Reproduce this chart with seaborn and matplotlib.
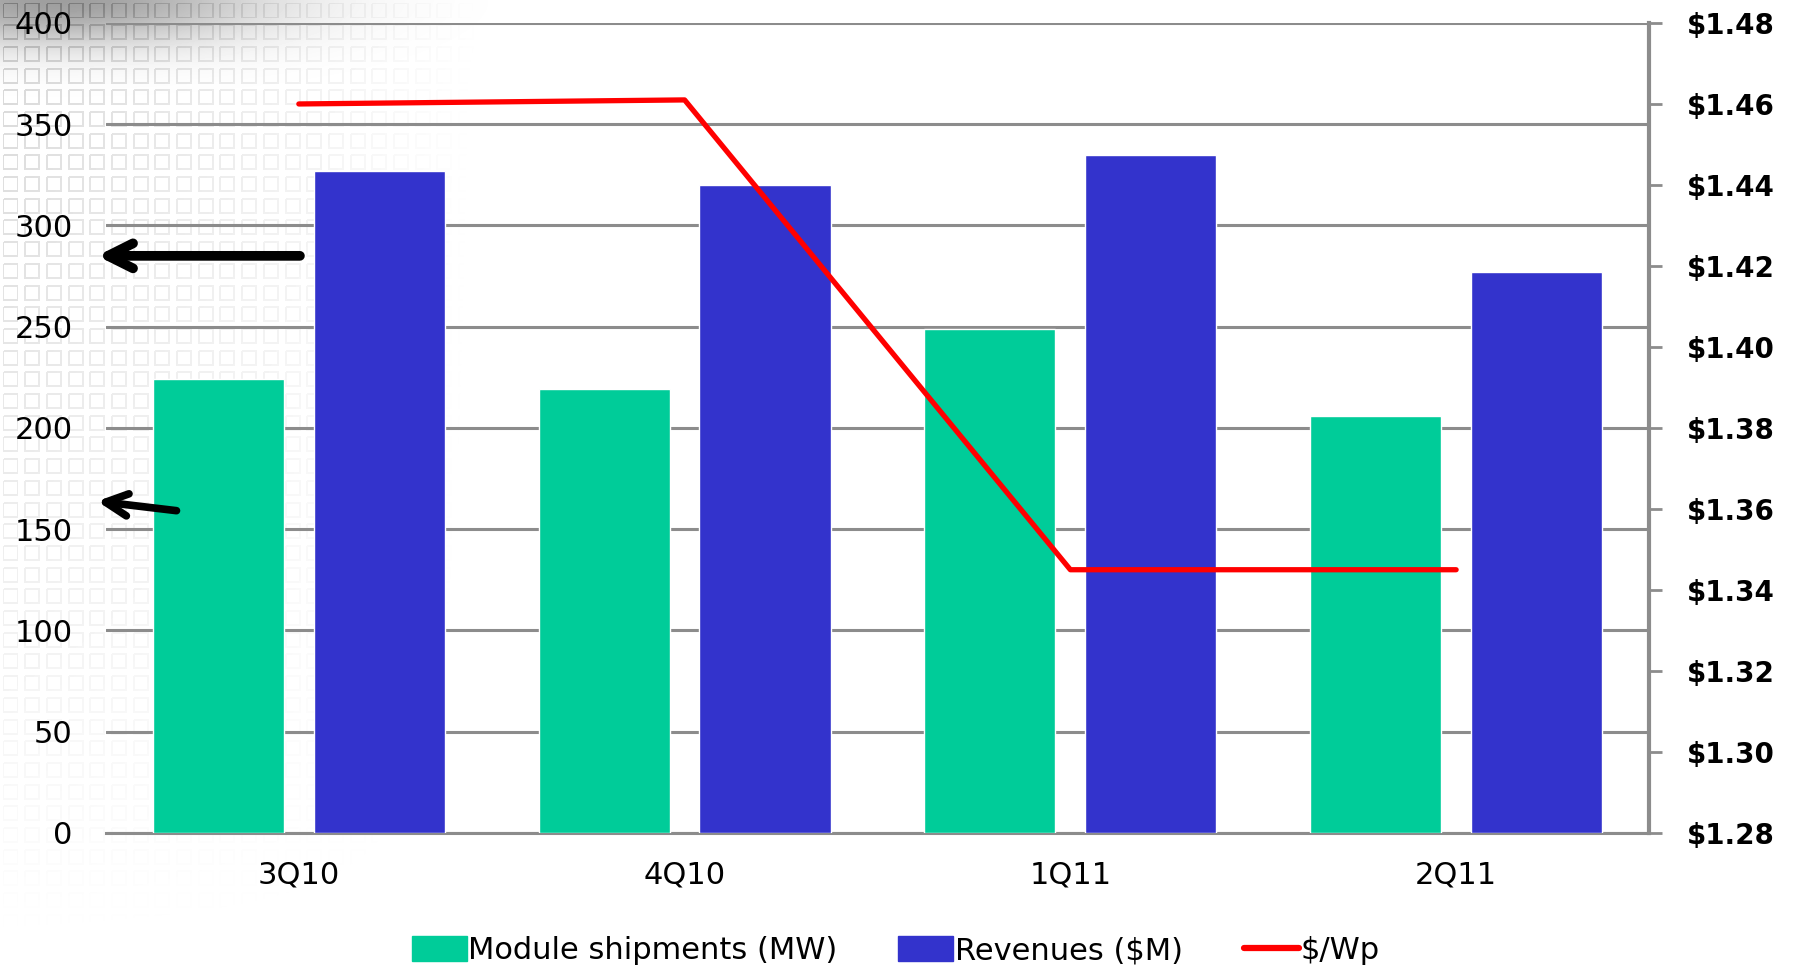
import numpy as np
import pandas as pd
import seaborn as sns
import matplotlib.pyplot as plt
from matplotlib.patches import Patch
from matplotlib.lines import Line2D

quarters = ["3Q10", "4Q10", "1Q11", "2Q11"]
shipments_mw = [224, 219, 249, 206]
revenues_m = [327, 320, 335, 277]
price_wp = [1.460, 1.461, 1.345, 1.345]

green = "#00CC99"
blue = "#3333CC"
red = "#FF0000"
grid_grey = "#8C8C8C"

df = pd.DataFrame({
    "quarter": quarters * 2,
    "value": shipments_mw + revenues_m,
    "series": ["Module shipments (MW)"] * 4 + ["Revenues ($M)"] * 4,
})

sns.set_style("white")
plt.rcParams["font.family"] = ["DejaVu Sans"]
plt.rcParams["text.color"] = "black"
plt.rcParams["xtick.color"] = "black"
plt.rcParams["ytick.color"] = "black"

fig = plt.figure(figsize=(18.02, 9.73), dpi=100)

# faint squared texture with a shadow in the upper left corner
H, W = 973, 1802
yy, xx = np.mgrid[0:H, 0:W]
p = 21.7
xm = xx % p
ym = yy % p
edge = (((np.abs(xm - 3) < 1) | (np.abs(xm - 17) < 1)) & (ym > 3) & (ym < 18)) | \
       (((np.abs(ym - 3) < 1) | (np.abs(ym - 17) < 1)) & (xm > 3) & (xm < 18))
fade = np.clip(1 - xx / 480.0, 0, 1) * np.clip(1 - yy / 950.0, 0, 1)
shade = np.exp(-(((xx - 60) / 200.0) ** 2 + (yy / 45.0) ** 2)) * 0.38
lum = 1 - edge * fade * 0.16 - shade
bg = fig.add_axes([0, 0, 1, 1], zorder=-5)
bg.imshow(np.clip(lum, 0, 1), cmap="gray", vmin=0, vmax=1, aspect="auto",
          interpolation="bilinear")
bg.axis("off")

ax = fig.add_axes([0.0588, 0.1439, 0.8563, 0.8325])
ax.patch.set_alpha(0)

sns.barplot(data=df, x="quarter", y="value", hue="series",
            palette=[green, blue], width=0.834, gap=0.185, saturation=1,
            legend=False, ax=ax, zorder=3)
ax.set_xlim(-0.5, 3.5)
ax.set_ylim(0, 400)
ax.set_yticks(np.arange(0, 401, 50))
ax.grid(axis="y", color=grid_grey, lw=2.2, zorder=0)
ax.set_axisbelow(True)
ax.set_xlabel("")
ax.set_ylabel("")
for s in ["left", "top", "right"]:
    ax.spines[s].set_visible(False)
ax.spines["bottom"].set_color(grid_grey)
ax.spines["bottom"].set_linewidth(2.2)
ax.tick_params(axis="y", length=0, pad=24, labelsize=22)
ax.tick_params(axis="x", length=0, pad=20, labelsize=22)

ax2 = ax.twinx()
sns.lineplot(x=np.arange(len(quarters)), y=price_wp, color=red, lw=3.8,
             ax=ax2, zorder=5)
ax2.set_ylim(1.28, 1.48)
ax2.set_yticks(np.arange(1.28, 1.481, 0.02))
ax2.set_yticklabels([f"${v:.2f}" for v in np.arange(1.28, 1.481, 0.02)],
                    fontweight="bold")
ax2.tick_params(axis="y", length=9, width=2, color=grid_grey, pad=18,
                labelsize=20, labelcolor="black")
for s in ["left", "top", "bottom"]:
    ax2.spines[s].set_visible(False)
ax2.spines["right"].set_color(grid_grey)
ax2.spines["right"].set_linewidth(3)
ax2.set_ylabel("")

# arrows pointing to the left axis
ax.annotate("", xy=(-0.53, 285), xytext=(0.01, 285),
            arrowprops=dict(arrowstyle="->", lw=7, color="black",
                            mutation_scale=45), annotation_clip=False, zorder=6)
ax.annotate("", xy=(-0.53, 164), xytext=(-0.31, 159),
            arrowprops=dict(arrowstyle="->", lw=5.5, color="black",
                            mutation_scale=40), annotation_clip=False, zorder=6)

handles = [Patch(color=green, label="Module shipments (MW)"),
           Patch(color=blue, label="Revenues ($M)"),
           Line2D([], [], color=red, lw=4.5, label="$/Wp")]
fig.legend(handles=handles, loc="center", bbox_to_anchor=(0.497, 0.023),
           ncol=3, frameon=False, fontsize=22, handlelength=1.8,
           handleheight=0.9, handletextpad=0.05, columnspacing=2.0)

fig.savefig("out.png", dpi=100)
